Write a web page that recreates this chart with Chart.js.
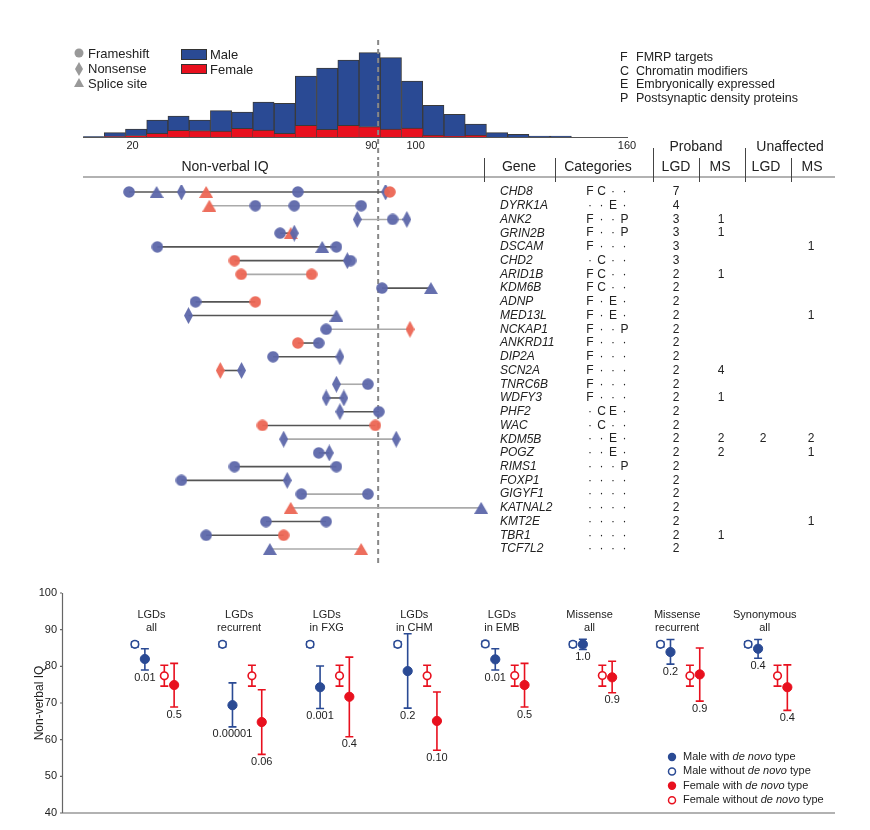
<!DOCTYPE html>
<html><head><meta charset="utf-8">
<script src="https://cdn.jsdelivr.net/npm/chart.js@4"></script>
<style>
body{margin:0;background:#fff;width:870px;height:830px;position:relative;overflow:hidden}
canvas{position:absolute;left:0}
</style></head><body>
<canvas id="hist" width="870" height="160" style="top:0"></canvas>
<canvas id="dumb" width="870" height="440" style="top:135px"></canvas>
<canvas id="iq" width="870" height="250" style="top:580px"></canvas>
<script>
// ---------- Histogram data ----------
const binStarts = [6,12,18,24,30,36,42,48,54,60,66,72,78,84,90,96,102,108,114,120,126,132,138];
const maleCounts =   [1,12,20,40,43,32,61,49,84,90,148,184,196,222,214,141,90,66,34,13,8,3,3];
const femaleCounts = [0,1,4,11,20,19,18,26,21,11,35,23,35,31,24,27,5,2,5,0,0,0,0];
const histTicks = [20,90,100,160];
const meanIQ = 89.4;

// ---------- Gene dumbbell data ----------
const genes = ['CHD8','DYRK1A','ANK2','GRIN2B','DSCAM','CHD2','ARID1B','KDM6B','ADNP','MED13L','NCKAP1','ANKRD11','DIP2A','SCN2A','TNRC6B','WDFY3','PHF2','WAC','KDM5B','POGZ','RIMS1','FOXP1','GIGYF1','KATNAL2','KMT2E','TBR1','TCF7L2'];
const geneIQ = [
 [19.0,26.8,33.8,40.8,66.7,91.5,92.7],[41.7,54.7,65.7,84.6],[83.5,93.5,97.5],[61.7,64.7,65.7],
 [27.0,73.6,77.6],[48.8,80.7,81.6],[50.7,70.6],[90.5,104.3],[37.8,54.7],[35.8,77.6],[74.7,98.4],
 [66.7,72.6],[59.7,78.6],[44.8,50.8],[77.6,86.5],[74.7,79.7],[78.6,89.6],[56.7,88.6],[62.7,94.5],
 [72.6,75.6],[48.8,77.6],[33.8,63.7],[67.7,86.5],[64.7,118.5],[57.7,74.7],[40.8,62.7],[58.8,84.6]];
const geneType = [ // F frameshift, N nonsense, S splice site
 ['F','S','N','S','F','N','F'],['S','F','F','F'],['N','F','N'],['F','S','N'],['F','S','F'],['F','N','F'],['F','F'],['F','S'],['F','F'],['N','S'],['F','N'],
 ['F','F'],['F','N'],['N','N'],['N','F'],['N','N'],['N','F'],['F','F'],['N','N'],['F','N'],['F','F'],['F','N'],['F','F'],['S','S'],['F','F'],['F','F'],['S','S']];
const geneSex = [
 ['M','M','M','F','M','M','F'],['F','M','M','M'],['M','M','M'],['M','F','M'],['M','M','M'],['F','M','M'],['F','F'],['M','M'],['M','F'],['M','M'],['M','F'],
 ['F','M'],['M','M'],['F','M'],['M','M'],['M','M'],['M','M'],['F','F'],['M','M'],['M','M'],['M','M'],['M','M'],['M','M'],['F','M'],['M','M'],['M','F'],['M','F']];
const geneCategories = ['FC..','..E.','F..P','F..P','F...','.C..','FC..','FC..','F.E.','F.E.','F..P','F...','F...','F...','F...','F...','.CE.','.C..','..E.','..E.','...P','....','....','....','....','....','....'];
const probandLGD = [7,4,3,3,3,3,2,2,2,2,2,2,2,2,2,2,2,2,2,2,2,2,2,2,2,2,2];
const probandMS  = ['','','1','1','','','1','','','','','','','4','','1','','','2','2','','','','','','1',''];
const unaffLGD   = ['','','','','','','','','','','','','','','','','','','2','','','','','','','',''];
const unaffMS    = ['','','','','1','','','','','1','','','','','','','','','2','1','','','','','1','',''];
const lineTone = ['d','l','l','d','d','d','l','d','d','d','l','d','d','d','l','d','d','d','l','d','d','d','l','l','d','d','l'];

// ---------- IQ by de novo type ----------
const groupTitles = [['LGDs','all'],['LGDs','recurrent'],['LGDs','in FXG'],['LGDs','in CHM'],['LGDs','in EMB'],['Missense','all'],['Missense','recurrent'],['Synonymous','all']];
const maleWithout = [86,86,86,86,86.1,86,86,86];
const maleWithoutLo = [85.3,85.3,85.3,85.3,85.4,85.3,85.3,85.3];
const maleWithoutHi = [86.7,86.7,86.7,86.7,86.8,86.7,86.7,86.7];
const maleWith = [82.0,69.4,74.3,78.7,81.9,86.0,83.9,84.8];
const maleWithLo = [79.0,63.5,68.5,68.6,79.0,84.6,80.6,82.2];
const maleWithHi = [84.8,75.5,80.1,88.9,84.8,87.4,87.3,87.3];
const femaleWithout = [77.4,77.4,77.4,77.4,77.5,77.5,77.4,77.4];
const femaleWithoutLo = [74.6,74.6,74.6,74.6,74.6,74.6,74.6,74.6];
const femaleWithoutHi = [80.3,80.3,80.3,80.3,80.3,80.3,80.3,80.3];
const femaleWith = [74.9,64.8,71.7,65.1,74.9,77.0,77.8,74.3];
const femaleWithLo = [68.9,56.0,60.8,57.1,68.9,72.8,70.5,68.0];
const femaleWithHi = [80.8,73.6,82.5,73.0,80.8,81.4,85.0,80.4];
const malePval = ['0.01','0.00001','0.001','0.2','0.01','1.0','0.2','0.4'];
const femalePval = ['0.5','0.06','0.4','0.10','0.5','0.9','0.9','0.4'];
const yTicks = [40,50,60,70,80,90,100];

// ---------- styles ----------
const FONT = '"Liberation Sans", Arial, Helvetica, sans-serif';
const BLUE = '#2a4a94', RED = '#e8101e';
const PBLUE = '#5d67aa', PRED = '#ec6654';

// ====== Histogram ======
new Chart(document.getElementById('hist'), {
  type: 'bar',
  data: { datasets: [
    {label:'Female', data: binStarts.map((b,i)=>({x:b+3,y:femaleCounts[i]})), backgroundColor: RED, borderColor:'#3a3a3a', borderWidth:{top:1,left:0.5,right:0.5,bottom:0}, barPercentage:1, categoryPercentage:1},
    {label:'Male', data: binStarts.map((b,i)=>({x:b+3,y:maleCounts[i]})), backgroundColor: BLUE, borderColor:'#3a3a3a', borderWidth:{top:1,left:1,right:1,bottom:0}, barPercentage:1, categoryPercentage:1}
  ]},
  options: {
    responsive:false, animation:false,
    layout:{padding:{left:83,right:242,top:40,bottom:23}},
    plugins:{legend:{display:false},tooltip:{enabled:false}},
    scales:{ x:{type:'linear',min:6,max:160,offset:false,stacked:true,display:false}, y:{min:0,max:291,stacked:true,display:false} }
  },
  plugins:[{id:'histDeco', afterDraw(chart){
    const c=chart.ctx, xs=chart.scales.x, a=chart.chartArea;
    c.save();
    c.strokeStyle='#555'; c.lineWidth=1.2;
    c.beginPath(); c.moveTo(a.left,a.bottom+0.5); c.lineTo(a.right,a.bottom+0.5); c.stroke();
    c.fillStyle='#222'; c.font='11px '+FONT; c.textAlign='center'; c.textBaseline='middle';
    histTicks.forEach(t=>{ let px=xs.getPixelForValue(t); if(t===90) px-=9; if(t===160) px-=1; c.fillText(String(t),px,146); });
    c.strokeStyle='#888'; c.lineWidth=2; c.setLineDash([5,4]);
    const mx=xs.getPixelForValue(meanIQ);
    c.beginPath(); c.moveTo(mx,40); c.lineTo(mx,160); c.stroke(); c.setLineDash([]);
    c.fillStyle='#999'; c.textAlign='left';
    c.beginPath(); c.arc(79,53,4.5,0,Math.PI*2); c.fill();
    c.beginPath(); c.moveTo(79,62); c.lineTo(83,69); c.lineTo(79,76); c.lineTo(75,69); c.closePath(); c.fill();
    c.beginPath(); c.moveTo(79,78); c.lineTo(84,87); c.lineTo(74,87); c.closePath(); c.fill();
    c.fillStyle='#222'; c.font='13px '+FONT;
    c.fillText('Frameshift',88,54); c.fillText('Nonsense',88,69); c.fillText('Splice site',88,84);
    c.fillStyle=BLUE; c.fillRect(181,49,26,11); c.strokeStyle='#333'; c.lineWidth=1; c.strokeRect(181.5,49.5,25,10);
    c.fillStyle=RED; c.fillRect(181,64,26,10); c.strokeRect(181.5,64.5,25,9);
    c.fillStyle='#222'; c.fillText('Male',210,55); c.fillText('Female',210,70);
    const leg=[['F','FMRP targets'],['C','Chromatin modifiers'],['E','Embryonically expressed'],['P','Postsynaptic density proteins']];
    c.font='12.5px '+FONT;
    leg.forEach((l,i)=>{ c.fillText(l[0],620,58+i*13.4); c.fillText(l[1],636,58+i*13.4); });
    c.restore();
  }}]
});

// ====== Dumbbell ======
function mkImg(shape,color){
  const cv=document.createElement('canvas');
  let w=12,h=12;
  if(shape==='N'){w=9;h=17;} if(shape==='S'){w=14;h=12;}
  cv.width=w; cv.height=h; const g=cv.getContext('2d'); g.fillStyle=color; g.globalAlpha=0.95;
  g.beginPath();
  if(shape==='F'){ g.arc(6,6,5.8,0,Math.PI*2); }
  else if(shape==='N'){ g.moveTo(4.5,0); g.lineTo(9,8.5); g.lineTo(4.5,17); g.lineTo(0,8.5); g.closePath(); }
  else { g.moveTo(7,0); g.lineTo(14,12); g.lineTo(0,12); g.closePath(); }
  g.fill(); return cv;
}
const imgs={};
['F','N','S'].forEach(s=>{ imgs[s+'M']=mkImg(s,PBLUE); imgs[s+'F']=mkImg(s,PRED); });

const dumbSets = genes.map((g,i)=>({
  label:g,
  data: geneIQ[i].map(v=>({x:v,y:i})),
  borderColor: lineTone[i]==='d' ? '#555' : '#aaa',
  borderWidth: 1.6,
  pointStyle: geneType[i].map((t,j)=>imgs[t+geneSex[i][j]]),
  pointRadius: 6,
  showLine:true, fill:false
}));

new Chart(document.getElementById('dumb'), {
  type:'line',
  data:{datasets:dumbSets},
  options:{
    responsive:false, animation:false,
    layout:{padding:{left:83,right:242,top:50.1,bottom:19.1}},
    plugins:{legend:{display:false},tooltip:{enabled:false}},
    scales:{ x:{type:'linear',min:6,max:160,display:false}, y:{type:'linear',min:-0.5,max:26.5,reverse:true,display:false} }
  },
  plugins:[{id:'dumbDeco',
    beforeDatasetsDraw(chart){
      const c=chart.ctx, xs=chart.scales.x;
      c.save(); c.strokeStyle='#888'; c.lineWidth=2; c.setLineDash([5,4]);
      const mx=xs.getPixelForValue(meanIQ);
      c.beginPath(); c.moveTo(mx,27); c.lineTo(mx,428); c.stroke(); c.restore();
    },
    afterDraw(chart){
      const c=chart.ctx, ys=chart.scales.y; const O=135;
      c.save();
      c.strokeStyle='#999'; c.lineWidth=1.5;
      c.beginPath(); c.moveTo(83,177-O); c.lineTo(835,177-O); c.stroke();
      c.strokeStyle='#444'; c.lineWidth=1;
      const seps=[[484,158,182],[555,158,182],[653,148,182],[699,158,182],[745,148,182],[791,158,182]];
      seps.forEach(s=>{c.beginPath(); c.moveTo(s[0]+0.5,s[1]-O); c.lineTo(s[0]+0.5,s[2]-O); c.stroke();});
      c.fillStyle='#222'; c.font='14px '+FONT; c.textBaseline='middle'; c.textAlign='center';
      c.fillText('Non-verbal IQ',225,167-O);
      c.fillText('Gene',519,167-O); c.fillText('Categories',598,167-O);
      c.fillText('Proband',696,147-O); c.fillText('Unaffected',790,147-O);
      c.fillText('LGD',676,167-O); c.fillText('MS',720,167-O); c.fillText('LGD',766,167-O); c.fillText('MS',812,167-O);
      const catX=[590,601.5,613,624.5];
      genes.forEach((g,i)=>{
        const y=ys.getPixelForValue(i);
        c.textAlign='left'; c.font='italic 12px '+FONT; c.fillText(g,500,y);
        c.font='12px '+FONT; c.textAlign='center';
        geneCategories[i].split('').forEach((ch,k)=>{ c.fillText(ch==='.'?'·':ch,catX[k],y); });
        c.fillText(String(probandLGD[i]),676,y);
        if(probandMS[i]) c.fillText(probandMS[i],721,y);
        if(unaffLGD[i]) c.fillText(unaffLGD[i],763,y);
        if(unaffMS[i]) c.fillText(unaffMS[i],811,y);
      });
      c.restore();
    }}]
});

// ====== IQ by type ======
const offs=[-0.224,-0.11,0.112,0.224];
const series=[
  {v:maleWithout,lo:maleWithoutLo,hi:maleWithoutHi,col:BLUE,open:true},
  {v:maleWith,lo:maleWithLo,hi:maleWithHi,col:BLUE,open:false},
  {v:femaleWithout,lo:femaleWithoutLo,hi:femaleWithoutHi,col:RED,open:true},
  {v:femaleWith,lo:femaleWithLo,hi:femaleWithHi,col:RED,open:false}];
new Chart(document.getElementById('iq'), {
  type:'scatter',
  data:{datasets:series.map((s,k)=>({
    data:s.v.map((v,g)=>({x:g+offs[k],y:v})),
    pointRadius: s.open?3.8:4.6,
    backgroundColor: s.open?'#fff':s.col,
    borderColor: s.col, borderWidth: s.open?1.6:1
  }))},
  options:{
    responsive:false, animation:false,
    layout:{padding:{left:62,right:35,top:13,bottom:17}},
    plugins:{legend:{display:false},tooltip:{enabled:false}},
    scales:{ x:{type:'linear',min:-1.056,max:7.768,display:false}, y:{min:40,max:100,display:false} }
  },
  plugins:[{id:'iqDeco',
    beforeDatasetsDraw(chart){
      const c=chart.ctx, xs=chart.scales.x, ys=chart.scales.y;
      c.save(); c.lineWidth=1.6;
      series.forEach((s,k)=>{
        c.strokeStyle=s.col;
        s.v.forEach((v,g)=>{
          const x=xs.getPixelForValue(g+offs[k]), y1=ys.getPixelForValue(s.lo[g]), y2=ys.getPixelForValue(s.hi[g]);
          c.beginPath(); c.moveTo(x,y1); c.lineTo(x,y2);
          c.moveTo(x-4,y1); c.lineTo(x+4,y1); c.moveTo(x-4,y2); c.lineTo(x+4,y2); c.stroke();
        });
      });
      c.restore();
    },
    afterDraw(chart){
      const c=chart.ctx, xs=chart.scales.x, ys=chart.scales.y, a=chart.chartArea;
      c.save();
      c.strokeStyle='#666'; c.lineWidth=1.2;
      c.beginPath(); c.moveTo(a.left+0.5,a.top); c.lineTo(a.left+0.5,a.bottom); c.lineTo(a.right,a.bottom); c.stroke();
      c.fillStyle='#222'; c.font='11px '+FONT; c.textAlign='right'; c.textBaseline='middle';
      yTicks.forEach(t=>{ const y=ys.getPixelForValue(t); c.fillText(String(t),a.left-5,y);
        c.beginPath(); c.moveTo(a.left-2,y); c.lineTo(a.left,y); c.stroke(); });
      c.save(); c.translate(40,(a.top+a.bottom)/2); c.rotate(-Math.PI/2); c.textAlign='center'; c.font='12px '+FONT;
      c.fillText('Non-verbal IQ',0,0); c.restore();
      c.textAlign='center'; c.font='11px '+FONT; c.textBaseline='middle';
      groupTitles.forEach((t,g)=>{ const x=xs.getPixelForValue(g)-3; c.fillText(t[0],x,35); c.fillText(t[1],x,48); });
      c.textBaseline='top';
      malePval.forEach((p,g)=>{ c.fillText(p,xs.getPixelForValue(g+offs[1]),ys.getPixelForValue(maleWithLo[g])+2); });
      femalePval.forEach((p,g)=>{ c.fillText(p,xs.getPixelForValue(g+offs[3]),ys.getPixelForValue(femaleWithLo[g])+2); });
      const L=[[BLUE,false,'Male with '],[BLUE,true,'Male without '],[RED,false,'Female with '],[RED,true,'Female without ']];
      c.textAlign='left'; c.textBaseline='middle';
      L.forEach((l,i)=>{
        const y=757-580+i*14.4;
        c.beginPath(); c.arc(672,y,l[1]?3.5:4.2,0,Math.PI*2);
        if(l[1]){c.fillStyle='#fff'; c.fill(); c.strokeStyle=l[0]; c.lineWidth=1.5; c.stroke();} else {c.fillStyle=l[0]; c.fill();}
        c.fillStyle='#222'; let x=683;
        c.font='11px '+FONT; c.fillText(l[2],x,y); x+=c.measureText(l[2]).width;
        c.font='italic 11px '+FONT; c.fillText('de novo',x,y); x+=c.measureText('de novo').width;
        c.font='11px '+FONT; c.fillText(' type',x,y);
      });
      c.restore();
    }}]
});
</script>
</body></html>
